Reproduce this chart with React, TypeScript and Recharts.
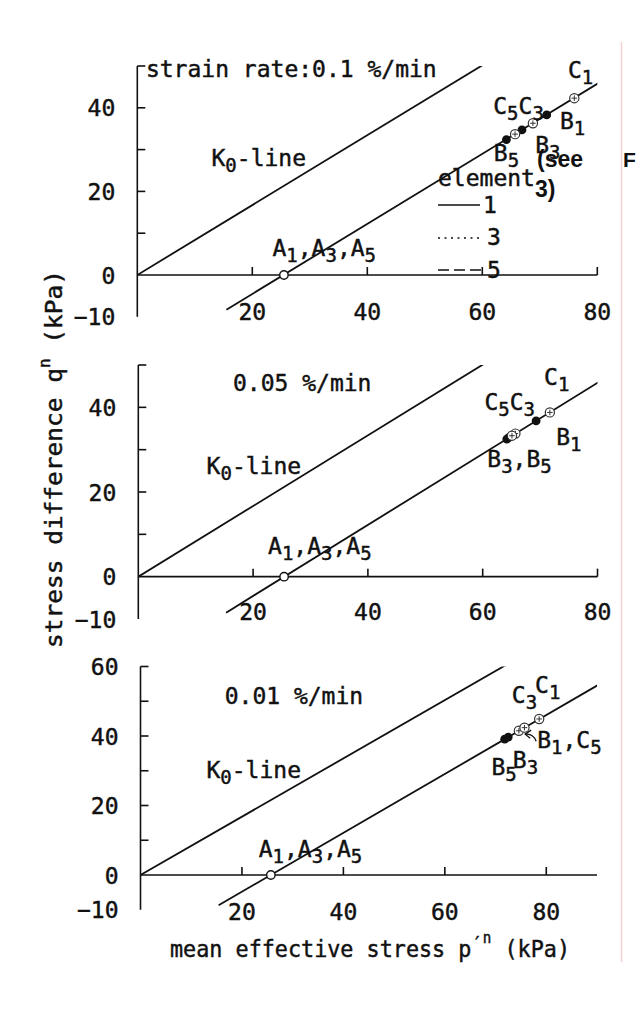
import {
  ComposedChart,
  Line,
  Scatter,
  XAxis,
  YAxis,
  ReferenceLine,
  ReferenceDot,
} from "recharts";

const MONO = "'DejaVu Sans Mono', 'Liberation Mono', monospace";
const BOLD = "'Liberation Sans', Arial, sans-serif";
const INK = "#111";
// slight outline so the monospace glyphs carry the same weight as the printed figure
const HEAVY = { stroke: INK, strokeWidth: 0.45 };

type Pt = { p: number; q: number };
type Note = { p: number; q: number; parts: [string, string][]; arrow?: boolean };

// strain rate 0.1 %/min
const k0Line01: Pt[] = [{ p: 0, q: 0 }, { p: 61.0, q: 51.0 }];
const csl01: Pt[] = [{ p: 15.5, q: -8.3 }, { p: 80.8, q: 46.4 }];
const ptsA01: Pt[] = [{ p: 25.5, q: 0 }];
const ptsB01: Pt[] = [{ p: 71.2, q: 38.3 }, { p: 66.9, q: 34.7 }, { p: 64.2, q: 32.4 }];
const ptsC01: Pt[] = [{ p: 76.0, q: 42.3 }, { p: 68.8, q: 36.3 }, { p: 65.7, q: 33.7 }];

// 0.05 %/min
const k0Line005: Pt[] = [{ p: 0, q: 0 }, { p: 61.1, q: 51.0 }];
const csl005: Pt[] = [{ p: 15.3, q: -8.5 }, { p: 80.6, q: 46.3 }];
const ptsA005: Pt[] = [{ p: 25.4, q: 0 }];
const ptsB005: Pt[] = [{ p: 69.3, q: 36.8 }, { p: 64.6, q: 32.9 }, { p: 64.2, q: 32.5 }];
const ptsC005: Pt[] = [{ p: 71.7, q: 38.8 }, { p: 65.7, q: 33.8 }, { p: 65.1, q: 33.3 }];

// 0.01 %/min
const k0Line001: Pt[] = [{ p: 0, q: 0 }, { p: 73.2, q: 61.4 }];
const csl001: Pt[] = [{ p: 15.4, q: -8.7 }, { p: 90.6, q: 55.0 }];
const ptsA001: Pt[] = [{ p: 25.7, q: 0 }];
const ptsB001: Pt[] = [{ p: 75.7, q: 42.4 }, { p: 72.5, q: 39.7 }, { p: 71.8, q: 39.1 }];
const ptsC001: Pt[] = [{ p: 78.6, q: 44.9 }, { p: 74.6, q: 41.5 }, { p: 75.7, q: 42.4 }];

const pTicks = [20, 40, 60, 80];
const qTicks50 = [-10, 0, 10, 20, 30, 40, 50];
const qLabels50 = [-10, 0, 20, 40];
const qTicks60 = [-10, 0, 10, 20, 30, 40, 50, 60];
const qLabels60 = [-10, 0, 20, 40, 60];

const notes01: Note[] = [
  { p: 1.5, q: 47.4, parts: [["strain rate:0.1 %/min", ""]] },
  { p: 12.9, q: 26.1, parts: [["K", "0"], ["-line", ""]] },
  { p: 23.5, q: 4.5, parts: [["A", "1"], [",A", "3"], [",A", "5"]] },
  { p: 74.9, q: 47.1, parts: [["C", "1"]] },
  { p: 61.9, q: 38.5, parts: [["C", "5"], ["C", "3"]] },
  { p: 73.5, q: 34.9, parts: [["B", "1"]] },
  { p: 69.2, q: 29.2, parts: [["B", "3"]] },
  { p: 62.0, q: 27.2, parts: [["B", "5"]] },
];

const notes005: Note[] = [
  { p: 16.5, q: 43.9, parts: [["0.05 %/min", ""]] },
  { p: 11.9, q: 24.3, parts: [["K", "0"], ["-line", ""]] },
  { p: 22.6, q: 5.4, parts: [["A", "1"], [",A", "3"], [",A", "5"]] },
  { p: 70.7, q: 45.3, parts: [["C", "1"]] },
  { p: 60.3, q: 39.4, parts: [["C", "5"], ["C", "3"]] },
  { p: 72.8, q: 31.1, parts: [["B", "1"]] },
  { p: 60.8, q: 26.0, parts: [["B", "3"], [",B", "5"]] },
];

const notes001: Note[] = [
  { p: 16.6, q: 49.2, parts: [["0.01 %/min", ""]] },
  { p: 13.0, q: 27.9, parts: [["K", "0"], ["-line", ""]] },
  { p: 23.3, q: 5.3, parts: [["A", "1"], [",A", "3"], [",A", "5"]] },
  { p: 73.2, q: 49.5, parts: [["C", "3"]] },
  { p: 77.8, q: 52.4, parts: [["C", "1"]] },
  { p: 78.2, q: 36.5, parts: [["B", "1"], [",C", "5"]], arrow: true },
  { p: 69.2, q: 28.8, parts: [["B", "5"]] },
  { p: 73.4, q: 30.8, parts: [["B", "3"]] },
];

type PanelCfg = {
  top: number;
  height: number;
  plotTop: number;
  plotBottom: number;
  plotLeft: number;
  plotRight: number;
  pMax: number;
  qMax: number;
  qTicks: number[];
  qLabels: number[];
  xLabelDy: number;
  k0: Pt[];
  csl: Pt[];
  a: Pt[];
  b: Pt[];
  c: Pt[];
  notes: Note[];
};

// plot edges are given in chart-local pixels
const panels: PanelCfg[] = [
  {
    top: 0, height: 340, plotTop: 66, plotBottom: 23.2, plotLeft: 137.3, plotRight: 43.7,
    pMax: 80, qMax: 50, qTicks: qTicks50, qLabels: qLabels50, xLabelDy: 3,
    k0: k0Line01, csl: csl01, a: ptsA01, b: ptsB01, c: ptsC01, notes: notes01,
  },
  {
    top: 330, height: 310, plotTop: 35, plotBottom: 21, plotLeft: 138.3, plotRight: 43.5,
    pMax: 80, qMax: 50, qTicks: qTicks50, qLabels: qLabels50, xLabelDy: 1,
    k0: k0Line005, csl: csl005, a: ptsA005, b: ptsB005, c: ptsC005, notes: notes005,
  },
  {
    top: 640, height: 300, plotTop: 26.5, plotBottom: 30.25, plotLeft: 140.5, plotRight: 44,
    pMax: 90, qMax: 60, qTicks: qTicks60, qLabels: qLabels60, xLabelDy: 10,
    k0: k0Line001, csl: csl001, a: ptsA001, b: ptsB001, c: ptsC001, notes: notes001,
  },
];

// text with lowered subscripts, e.g. C5C3
function SubText({ x, y, parts }: { x: number; y: number; parts: [string, string][] }) {
  const spans: any[] = [];
  let low = false;
  parts.forEach(([base, sub], i) => {
    spans.push(
      <tspan key={`b${i}`} dy={low ? -6 : 0} fontSize={23}>
        {base}
      </tspan>
    );
    low = false;
    if (sub) {
      spans.push(
        <tspan key={`s${i}`} dy={6} fontSize={19}>
          {sub}
        </tspan>
      );
      low = true;
    }
  });
  return (
    <text x={x} y={y} fontFamily={MONO} fill={INK} {...HEAVY} style={{ whiteSpace: "pre" }}>
      {spans}
    </text>
  );
}

const openDot = (s: any) => (
  <circle cx={s.cx} cy={s.cy} r={4.2} fill="#fff" stroke={INK} strokeWidth={1.4} />
);
const fullDot = (s: any) => <circle cx={s.cx} cy={s.cy} r={4.4} fill={INK} />;
const crossDot = (s: any) => (
  <g>
    <circle cx={s.cx} cy={s.cy} r={4.6} fill="#fff" stroke="#333" strokeWidth={1.2} />
    <path
      d={`M${s.cx - 2.8},${s.cy}H${s.cx + 2.8}M${s.cx},${s.cy - 2.8}V${s.cy + 2.8}`}
      stroke="#333"
      strokeWidth={1}
    />
  </g>
);

function Panel({ cfg }: { cfg: PanelCfg }) {
  const axisX = cfg.plotLeft;
  return (
    <div style={{ position: "absolute", left: 0, top: cfg.top }}>
      <ComposedChart
        width={641}
        height={cfg.height}
        margin={{ top: cfg.plotTop, right: cfg.plotRight, bottom: 0, left: 0 }}
      >
        <XAxis
          type="number"
          dataKey="p"
          domain={[0, cfg.pMax]}
          ticks={pTicks}
          allowDataOverflow
          height={cfg.plotBottom}
          axisLine={false}
          tickLine={false}
          tickSize={0}
          tickMargin={0}
          interval={0}
          tick={(t: any) => (
            <text
              x={t.x}
              y={t.y + cfg.xLabelDy}
              textAnchor="middle"
              fontFamily={MONO}
              fontSize={23}
              fill={INK}
              {...HEAVY}
            >
              {t.payload.value}
            </text>
          )}
        />
        <YAxis
          type="number"
          dataKey="q"
          domain={[-10, cfg.qMax]}
          ticks={cfg.qTicks}
          allowDataOverflow
          width={cfg.plotLeft}
          tickLine={false}
          tickSize={0}
          tickMargin={0}
          interval={0}
          axisLine={{ stroke: INK, strokeWidth: 1.6 }}
          tick={(t: any) => {
            const v = t.payload.value;
            return (
              <g>
                {v > -10 && v !== 0 && (
                  <line x1={axisX} y1={t.y} x2={axisX + 8} y2={t.y} stroke={INK} strokeWidth={1.6} />
                )}
                {cfg.qLabels.includes(v) && (
                  <text
                    x={axisX - 22}
                    y={t.y + 8.5}
                    textAnchor="end"
                    fontFamily={MONO}
                    fontSize={23}
                    fill={INK}
                    {...HEAVY}
                  >
                    {v < 0 ? `\u2212${-v}` : v}
                  </text>
                )}
              </g>
            );
          }}
        />
        <ReferenceLine y={0} stroke={INK} strokeWidth={1.6} />
        {pTicks.map((v) => (
          <ReferenceDot
            key={`t${v}`}
            x={v}
            y={0}
            r={0}
            ifOverflow="visible"
            shape={(s: any) => (
              <line x1={s.cx} y1={s.cy} x2={s.cx} y2={s.cy - 8} stroke={INK} strokeWidth={1.6} />
            )}
          />
        ))}
        <Line data={cfg.k0} dataKey="q" type="linear" stroke={INK} strokeWidth={1.8} dot={false} isAnimationActive={false} />
        <Line data={cfg.csl} dataKey="q" type="linear" stroke={INK} strokeWidth={1.8} dot={false} isAnimationActive={false} />
        <Scatter data={cfg.a} dataKey="q" shape={openDot} isAnimationActive={false} />
        <Scatter data={cfg.b} dataKey="q" shape={fullDot} isAnimationActive={false} />
        <Scatter data={cfg.c} dataKey="q" shape={crossDot} isAnimationActive={false} />
        {cfg.notes.map((n, i) => (
          <ReferenceDot
            key={`n${i}`}
            x={n.p}
            y={n.q}
            r={0}
            ifOverflow="visible"
            shape={(s: any) => (
              <g>
                <SubText x={s.cx} y={s.cy} parts={n.parts} />
                {n.arrow && (
                  <g fill="none" stroke={INK} strokeWidth={1.3}>
                    <path d={`M${s.cx - 1},${s.cy - 7}Q${s.cx - 4},${s.cy - 15} ${s.cx - 12},${s.cy - 14}`} />
                    <path d={`M${s.cx - 6},${s.cy - 18}L${s.cx - 12},${s.cy - 14}L${s.cx - 7},${s.cy - 10}`} />
                  </g>
                )}
              </g>
            )}
          />
        ))}
      </ComposedChart>
    </div>
  );
}

export default function App() {
  return (
    <div
      style={{
        position: "absolute",
        left: 0,
        top: 0,
        width: 641,
        height: 1018,
        background: "#fff",
        overflow: "hidden",
      }}
    >
      {panels.map((cfg, i) => (
        <Panel key={i} cfg={cfg} />
      ))}
      <svg
        width={641}
        height={1018}
        style={{ position: "absolute", left: 0, top: 0, pointerEvents: "none" }}
      >
        <line x1={621.5} y1={42} x2={621.5} y2={962} stroke="#f3d2d2" strokeWidth={1.5} />

        {/* element legend */}
        <g fontFamily={MONO} fontSize={23} fill={INK} {...HEAVY}>
          <text x={438} y={186}>element</text>
          <text x={483} y={213}>1</text>
          <text x={487} y={245}>3</text>
          <text x={487} y={278}>5</text>
        </g>
        <line x1={438} y1={205} x2={480} y2={205} stroke={INK} strokeWidth={1.6} />
        <line x1={438} y1={238} x2={482} y2={238} stroke={INK} strokeWidth={1.6} strokeDasharray="2 4.5" />
        <line x1={438} y1={270} x2={484} y2={270} stroke={INK} strokeWidth={1.6} strokeDasharray="11 5" />

        <g fontFamily={BOLD} fontWeight="bold" fontSize={23} fill={INK}>
          <text x={537} y={167}>(see</text>
          <text x={535} y={197}>3)</text>
          <text x={623} y={167} fontSize={21}>F</text>
        </g>

        <text
          x={170}
          y={957}
          fontFamily={MONO}
          fontSize={23}
          fill={INK}
          {...HEAVY}
          textLength={400}
          lengthAdjust="spacingAndGlyphs"
        >
          mean effective stress p
          <tspan dy={-7} fontSize={20}>′</tspan>
          <tspan dy={-7} fontSize={15}>n</tspan>
          <tspan dy={14} fontSize={23}> (kPa)</tspan>
        </text>
        <text
          transform="translate(62,648) rotate(-90)"
          fontFamily={MONO}
          fontSize={23}
          fill={INK}
          {...HEAVY}
          textLength={378}
          lengthAdjust="spacingAndGlyphs"
        >
          stress difference q
          <tspan dy={-12} fontSize={15}>n</tspan>
          <tspan dy={12} fontSize={23}> (kPa)</tspan>
        </text>
      </svg>
    </div>
  );
}
